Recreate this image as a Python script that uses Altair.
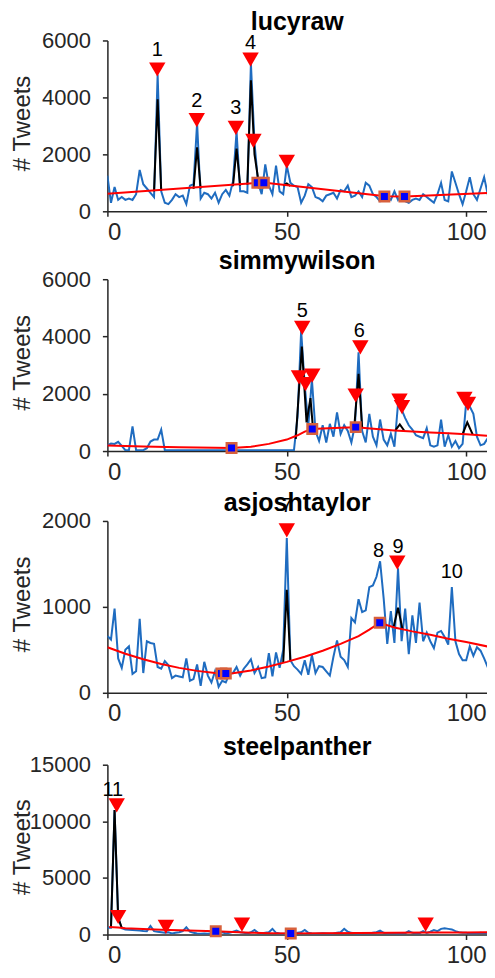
import altair as alt
import pandas as pd

FONT = "Liberation Sans"
DAYS = list(range(108))

# ---------------- lucyraw ----------------
LUCY_TWEETS = [1250, 300, 850, 400, 500, 400, 450, 400, 600, 1450,
               950, 800, 650, 500, 4800, 700, 300, 250, 400, 600,
               500, 550, 250, 900, 950, 3100, 450, 650, 600, 450,
               650, 300, 600, 750, 550, 1050, 2800, 700, 700, 650,
               5200, 2400, 1000, 600, 1650, 900, 600, 1600, 700, 600,
               1600, 1000, 900, 850, 300, 550, 950, 850, 500, 450,
               350, 550, 600, 650, 450, 750, 700, 900, 500, 550,
               700, 500, 1000, 900, 600, 500, 350, 400, 500, 400,
               700, 400, 600, 350, 300, 400, 450, 400, 600, 500,
               400, 300, 600, 1000, 400, 350, 1400, 1000, 600, 250,
               700, 1200, 600, 400, 800, 1200, 600, 1000]
LUCY_BASE_X = [0, 42, 44, 77.5, 83, 107]
LUCY_BASE_Y = [620, 1000, 1000, 530, 520, 650]
LUCY_BLACK_SEG = [1, 1, 1, 2, 2, 2, 3, 3, 3, 4, 4, 4, 4, 4, 5, 5, 5]
LUCY_BLACK_X = [13, 14, 15, 24, 25, 26, 35, 36, 37, 39, 40, 41, 42, 43, 49, 50, 51]
LUCY_BLACK_Y = [700, 3930, 710, 790, 2250, 800, 880, 2200, 900, 930, 4600, 2000, 1150, 1000, 900, 980, 890]
LUCY_PEAK_X = [13.9, 24.9, 35.8, 39.9, 40.7, 50.0]
LUCY_PEAK_Y = [4980, 3200, 2930, 5330, 2470, 1740]
LUCY_KNOT_X = [41.8, 43.6, 77.2, 82.8]
LUCY_KNOT_Y = [1000, 1000, 520, 520]
LUCY_LABEL_X = [13.9, 24.9, 35.8, 39.9]
LUCY_LABEL_Y = [5650, 3880, 3620, 5920]
LUCY_LABEL_T = ["1", "2", "3", "4"]

# ---------------- simmywilson ----------------
SIMMY_TWEETS = [200, 260, 250, 320, 180, 30, 30, 860, 30, 30,
                30, 100, 330, 400, 400, 750, 30, 30, 30, 30,
                30, 30, 30, 30, 30, 30, 30, 30, 30, 30,
                30, 30, 30, 30, 30, 30, 30, 30, 30, 30,
                30, 30, 30, 30, 30, 30, 30, 30, 30, 30,
                30, 30, 30, 1200, 4200, 2300, 900, 2500, 700, 350,
                900, 300, 950, 500, 1350, 600, 900, 700, 300, 900,
                3450, 700, 300, 1300, 500, 200, 1100, 400, 200, 600,
                150, 1650, 1450, 1150, 900, 750, 550, 500, 450, 800,
                200, 150, 200, 1100, 150, 550, 150, 350, 100, 250,
                1700, 1550, 1300, 500, 200, 250, 450, 250]
SIMMY_BASE_X = [0, 10, 20, 30, 34.6, 40, 45, 50, 53, 55, 57.1, 60, 65, 69.2,
                75, 80, 85, 90, 95, 100, 107]
SIMMY_BASE_Y = [190, 160, 135, 115, 105, 150, 250, 400, 550, 680, 770, 790, 810, 830,
                770, 720, 680, 650, 620, 590, 520]
SIMMY_BLACK_SEG = [1, 1, 1, 1, 1, 2, 2, 2, 3, 3, 3, 4, 4, 4]
SIMMY_BLACK_X = [52.5, 54.2, 55.5, 56.6, 57.3, 68.8, 70, 71, 80.3, 81.5, 82.8, 99, 100.3, 101.8]
SIMMY_BLACK_Y = [420, 3650, 1000, 1850, 780, 830, 2700, 830, 730, 930, 700, 590, 1000, 580]
SIMMY_PEAK_X = [54.3, 53.4, 55.2, 57.1, 70.5, 69.2, 81.4, 82.1, 99.5, 100.5]
SIMMY_PEAK_Y = [4300, 2570, 2340, 2630, 3620, 1940, 1760, 1530, 1820, 1650]
SIMMY_KNOT_X = [34.6, 57.1, 69.2]
SIMMY_KNOT_Y = [105, 770, 835]
SIMMY_LABEL_X = [54.3, 70.2]
SIMMY_LABEL_Y = [4900, 4200]
SIMMY_LABEL_T = ["5", "6"]

# ---------------- asjoshtaylor ----------------
JOSH_TWEETS = [660, 620, 980, 400, 290, 500, 540, 220, 250, 860,
               230, 600, 580, 570, 300, 280, 370, 320, 170, 200,
               190, 180, 400, 140, 160, 330, 80, 360, 200, 120,
               250, 70, 140, 120, 220, 230, 300, 200, 280, 330,
               390, 230, 300, 170, 180, 460, 190, 470, 290, 500,
               1800, 380, 310, 270, 220, 380, 210, 440, 230, 310,
               300, 250, 200, 420, 610, 420, 380, 300, 870, 820,
               1090, 940, 960, 1230, 1250, 1350, 1530, 1100, 570, 950,
               580, 1450, 600, 980, 450, 900, 580, 1050, 600, 700,
               600, 520, 700, 720, 650, 560, 1230, 600, 450, 380,
               380, 540, 430, 530, 490, 400, 300, 620]
JOSH_BASE_X = [0, 5, 10, 15, 20, 25, 30, 33, 35, 40, 45, 50, 55, 60, 65, 70, 73, 75.9,
               80, 85, 90, 95, 100, 107]
JOSH_BASE_Y = [530, 455, 390, 335, 290, 255, 230, 222, 228, 260, 305, 360, 420, 490,
               570, 660, 735, 815, 760, 715, 675, 630, 590, 530]
JOSH_BLACK_SEG = [1, 1, 1, 2, 2, 2]
JOSH_BLACK_X = [49, 50, 51, 79.8, 81, 82.2]
JOSH_BLACK_Y = [350, 1200, 370, 770, 990, 750]
JOSH_PEAK_X = [50.0, 80.8]
JOSH_PEAK_Y = [1890, 1515]
JOSH_KNOT_X = [31.8, 33.0, 75.9]
JOSH_KNOT_Y = [225, 225, 815]
JOSH_LABEL_X = [50.0, 75.6, 81.0, 96.0]
JOSH_LABEL_Y = [2170, 1650, 1700, 1410]
JOSH_LABEL_T = ["7", "8", "9", "10"]

# ---------------- steelpanther ----------------
STEEL_TWEETS = [600, 600, 11000, 1500, 550, 450, 420, 400, 380, 350,
                320, 300, 750, 300, 250, 200, 150, 200, 100, 150,
                200, 300, 650, 250, 150, 100, 80, 100, 80, 120,
                100, 150, 200, 100, 150, 250, 350, 200, 150, 100,
                200, 400, 150, 100, 150, 200, 500, 150, 100, 80,
                100, 80, 100, 150, 200, 400, 150, 100, 80, 100,
                120, 100, 80, 100, 150, 200, 500, 250, 150, 100,
                80, 100, 120, 100, 150, 200, 350, 150, 100, 120,
                100, 80, 100, 120, 300, 150, 100, 120, 300, 150,
                250, 400, 300, 500, 550, 500, 450, 300, 200, 150,
                150, 100, 120, 100, 150, 120, 100, 150]
STEEL_BASE_X = [0.5, 3, 5, 10, 15, 20, 25, 30.2, 35, 40, 45, 51.1, 60, 70, 80, 90, 100, 107]
STEEL_BASE_Y = [660, 620, 560, 480, 430, 380, 330, 290, 220, 160, 120, 90, 110, 130, 150, 170, 190, 200]
STEEL_BLACK_SEG = [1, 1, 1, 1]
STEEL_BLACK_X = [1, 2, 3, 4]
STEEL_BLACK_Y = [640, 11000, 1500, 600]
STEEL_PEAK_X = [2.6, 3.0, 16.3, 37.5, 88.7]
STEEL_PEAK_Y = [11400, 1550, 670, 870, 870]
STEEL_KNOT_X = [30.2, 51.1]
STEEL_KNOT_Y = [290, 90]
STEEL_LABEL_X = [1.5]
STEEL_LABEL_Y = [12800]
STEEL_LABEL_T = ["11"]

BLUE = "#1f6cc0"
RED = "#ff0000"
SQ_FILL = "#0000ff"
SQ_EDGE = "#d8603c"

W = 380
XMAX = 105.8


def panel(name, H, tweets, bx, by, seg, kx, ky, px, py, sx, sy, lx, ly, lt, ymax, yticks):
    xs = alt.X("x:Q", scale=alt.Scale(domain=[0, XMAX], nice=False, zero=False),
               axis=alt.Axis(values=[0, 50, 100], title=None, labelPadding=4, format="d",
                             labelFontSize=24))
    ys = alt.Y("y:Q", scale=alt.Scale(domain=[0, ymax], nice=False),
               axis=alt.Axis(values=yticks, title="# Tweets", titleX=-85, titleY=H / 2 - 3,
                             titleBaseline="middle", titleAlign="center", labelPadding=12,
                             format="d", labelFontSize=22))
    raw = pd.DataFrame({"x": DAYS, "y": tweets})
    base = pd.DataFrame({"x": bx, "y": by})
    black = pd.DataFrame({"seg": seg, "x": kx, "y": ky})
    peaks = pd.DataFrame({"x": px, "y": py})
    knots = pd.DataFrame({"x": sx, "y": sy})
    labels = pd.DataFrame({"x": lx, "y": ly, "t": lt})
    head = pd.DataFrame({"t": [name]})

    l_raw = alt.Chart(raw).mark_line(color=BLUE, strokeWidth=2, clip=True).encode(x=xs, y=ys)
    l_blk = alt.Chart(black).mark_line(color="black", strokeWidth=2, clip=True).encode(
        x=xs, y=ys, detail="seg:N")
    l_base = alt.Chart(base).mark_line(color=RED, strokeWidth=2, clip=True).encode(x=xs, y=ys)
    l_knot = alt.Chart(knots).mark_point(shape="square", size=90, filled=True, fill=SQ_FILL,
                                         stroke=SQ_EDGE, strokeWidth=2.5, opacity=1).encode(x=xs, y=ys)
    l_peak = alt.Chart(peaks).mark_point(shape="triangle-down", size=270, filled=True,
                                         color=RED, opacity=1).encode(x=xs, y=ys)
    l_lab = alt.Chart(labels).mark_text(font=FONT, fontSize=20, color="black").encode(
        x=xs, y=ys, text="t:N")
    l_head = alt.Chart(head).mark_text(font=FONT, fontSize=25, fontWeight="bold", color="black",
                                       baseline="middle", align="center").encode(
        x=alt.value(W / 2), y=alt.value(-18), text="t:N")
    return alt.layer(l_raw, l_blk, l_base, l_knot, l_peak, l_lab, l_head).properties(
        width=W, height=H)


p1 = panel("lucyraw", 171, LUCY_TWEETS, LUCY_BASE_X, LUCY_BASE_Y, LUCY_BLACK_SEG, LUCY_BLACK_X,
           LUCY_BLACK_Y, LUCY_PEAK_X, LUCY_PEAK_Y, LUCY_KNOT_X, LUCY_KNOT_Y,
           LUCY_LABEL_X, LUCY_LABEL_Y, LUCY_LABEL_T, 6000, [0, 2000, 4000, 6000])
p2 = panel("simmywilson", 172, SIMMY_TWEETS, SIMMY_BASE_X, SIMMY_BASE_Y, SIMMY_BLACK_SEG, SIMMY_BLACK_X,
           SIMMY_BLACK_Y, SIMMY_PEAK_X, SIMMY_PEAK_Y, SIMMY_KNOT_X, SIMMY_KNOT_Y,
           SIMMY_LABEL_X, SIMMY_LABEL_Y, SIMMY_LABEL_T, 6000, [0, 2000, 4000, 6000])
p3 = panel("asjoshtaylor", 172, JOSH_TWEETS, JOSH_BASE_X, JOSH_BASE_Y, JOSH_BLACK_SEG, JOSH_BLACK_X,
           JOSH_BLACK_Y, JOSH_PEAK_X, JOSH_PEAK_Y, JOSH_KNOT_X, JOSH_KNOT_Y,
           JOSH_LABEL_X, JOSH_LABEL_Y, JOSH_LABEL_T, 2000, [0, 1000, 2000])
p4 = panel("steelpanther", 170, STEEL_TWEETS, STEEL_BASE_X, STEEL_BASE_Y, STEEL_BLACK_SEG, STEEL_BLACK_X,
           STEEL_BLACK_Y, STEEL_PEAK_X, STEEL_PEAK_Y, STEEL_KNOT_X, STEEL_KNOT_Y,
           STEEL_LABEL_X, STEEL_LABEL_Y, STEEL_LABEL_T, 15000, [0, 5000, 10000, 15000])

top = alt.vconcat(p1, p2, spacing=5)
bottom = alt.vconcat(p3, p4, spacing=9)
chart = alt.vconcat(top, bottom, spacing=7).properties(
    padding={"left": 1.5, "top": 2, "right": 0, "bottom": 0}
).configure_view(stroke=None).configure_axis(
    grid=False, domainColor="#262626", tickColor="#262626", labelColor="#262626",
    titleColor="#262626", labelFont=FONT, titleFont=FONT,
    titleFontSize=24, titleFontWeight="normal", domainWidth=1.5, tickWidth=1.5, tickSize=5
)

chart.save("out.html", embed_options={"renderer": "svg", "actions": False})
